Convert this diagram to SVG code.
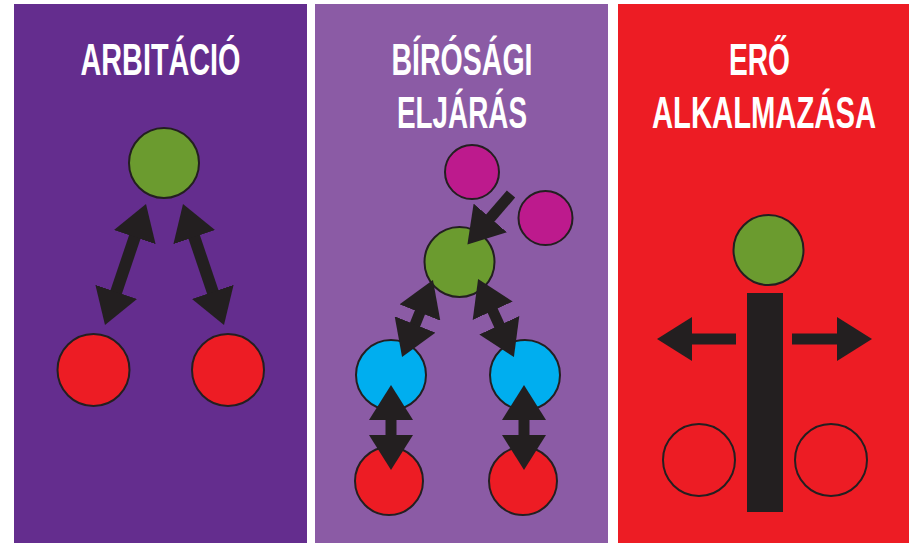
<svg xmlns="http://www.w3.org/2000/svg" width="909" height="543" viewBox="0 0 909 543">
<style>
.title{font-family:"Liberation Sans",Arial,sans-serif;font-weight:bold;font-size:30px;fill:#ffffff;text-anchor:middle}
.node{stroke:#231f20;stroke-width:2}
.green{fill:#6b9b2f}
.red{fill:#ed1c24}
.cyan{fill:#00aeef}
.mag{fill:#bd1a8d}
.hollow{fill:none}
.shaft{fill:none;stroke:#231f20;stroke-width:11;stroke-linecap:butt}
.thick{stroke-width:12}
</style>
<defs>
<marker id="head" markerUnits="userSpaceOnUse" viewBox="0 0 35 44" markerWidth="35" markerHeight="44" refX="11" refY="22" orient="auto-start-reverse">
<path d="M0,0 L35,22 L0,44 Z" fill="#231f20"/>
</marker>
</defs>
<rect x="0" y="0" width="909" height="543" fill="#ffffff"/>
<g id="panel-arbitacio">
<rect x="14" y="4" width="293" height="539" fill="#642d8e"/>
<text class="title" transform="translate(160.5,75) scale(1,1.45)" textLength="160" lengthAdjust="spacingAndGlyphs">ARBITÁCIÓ</text>
</g>
<g id="panel-birosagi">
<rect x="315" y="4" width="293" height="539" fill="#8b5ba5"/>
<text class="title" transform="translate(462,75) scale(1,1.45)" textLength="141" lengthAdjust="spacingAndGlyphs">BÍRÓSÁGI</text>
<text class="title" transform="translate(462,128) scale(1,1.45)" textLength="130" lengthAdjust="spacingAndGlyphs">ELJÁRÁS</text>
</g>
<g id="panel-ero">
<rect x="618" y="4" width="291" height="539" fill="#ed1c24"/>
<text class="title" transform="translate(759.5,75) scale(1,1.45)" textLength="61" lengthAdjust="spacingAndGlyphs">ERŐ</text>
<text class="title" transform="translate(764,128) scale(1,1.45)" textLength="224" lengthAdjust="spacingAndGlyphs">ALKALMAZÁSA</text>
</g>
<g id="n1-green"><circle class="node green" cx="164" cy="163" r="35"/></g>
<g id="n1-red-left"><circle class="node red" cx="93.5" cy="370" r="36"/></g>
<g id="n1-red-right"><circle class="node red" cx="228" cy="370" r="36"/></g>
<g id="n2-mag-top"><circle class="node mag" cx="472" cy="172" r="27"/></g>
<g id="n2-mag-right"><circle class="node mag" cx="545.5" cy="218" r="27"/></g>
<g id="n2-green"><circle class="node green" cx="459.5" cy="262" r="35"/></g>
<g id="n2-cyan-left"><circle class="node cyan" cx="391" cy="375" r="35"/></g>
<g id="n2-cyan-right"><circle class="node cyan" cx="525" cy="375" r="35"/></g>
<g id="n2-red-left"><circle class="node red" cx="389" cy="481" r="34"/></g>
<g id="n2-red-right"><circle class="node red" cx="523" cy="481" r="34"/></g>
<g id="n3-green"><circle class="node green" cx="768.5" cy="250" r="35"/></g>
<g id="n3-bar"><rect x="747" y="293" width="36" height="219" fill="#231f20"/></g>
<g id="n3-hollow-left"><circle class="node hollow" cx="699" cy="460" r="36"/></g>
<g id="n3-hollow-right"><circle class="node hollow" cx="831" cy="460" r="36"/></g>
<g id="connectors">
<path class="shaft thick" d="M138.3,226.7 L112.7,302.3" marker-start="url(#head)" marker-end="url(#head)"/>
<path class="shaft thick" d="M190.7,226.7 L216.3,302.3" marker-start="url(#head)" marker-end="url(#head)"/>
<path class="shaft" d="M511,194 L483.1,226.3" marker-end="url(#head)"/>
<path class="shaft" d="M424,302.3 L411,334.7" marker-start="url(#head)" marker-end="url(#head)"/>
<path class="shaft" d="M488.1,300.8 L503.9,335.2" marker-start="url(#head)" marker-end="url(#head)"/>
<path class="shaft" d="M391,409 L391,446" marker-start="url(#head)" marker-end="url(#head)"/>
<path class="shaft" d="M524,409 L524,446" marker-start="url(#head)" marker-end="url(#head)"/>
<path class="shaft" d="M736,339 L681,339" marker-end="url(#head)"/>
<path class="shaft" d="M792,339 L848,339" marker-end="url(#head)"/>
</g>
</svg>
